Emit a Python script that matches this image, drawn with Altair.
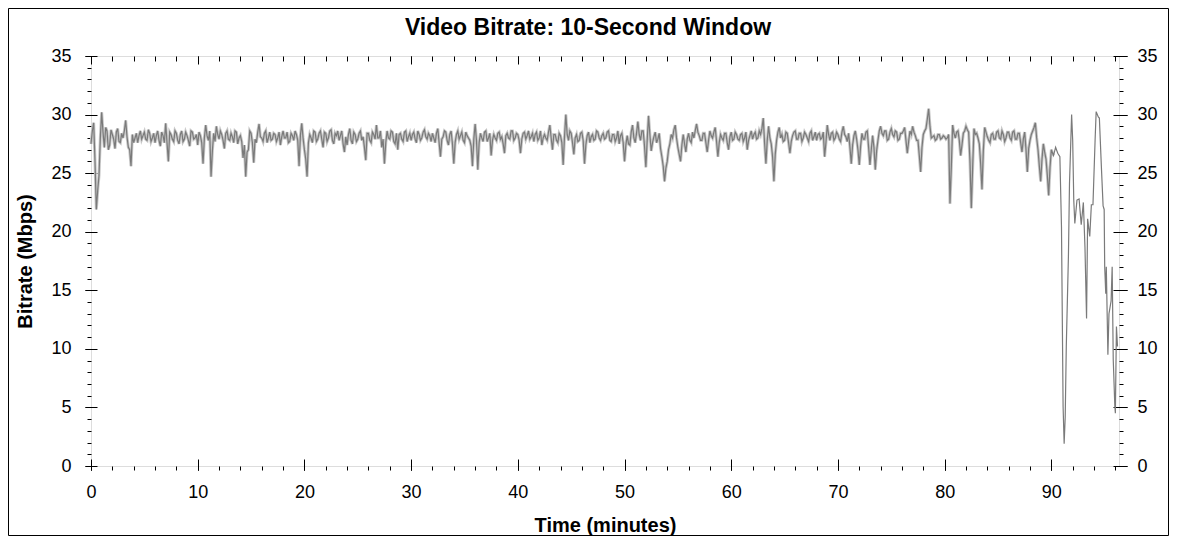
import altair as alt
import pandas as pd

title_text = "Video Bitrate: 10-Second Window"
x_title = "Time (minutes)"
y_title = "Bitrate (Mbps)"

# Bitrate (Mbps) read every 0.25 minute from 0 to 89.75 min
main_values = [
    # 0-10
    27.5, 29.3, 21.9, 24.8, 30.2, 27.2, 28.6, 27.4, 28.3, 27.1,
    28.8, 27.6, 28.0, 29.5, 27.2, 25.6, 27.6, 28.4, 28.2, 27.9,
    28.5, 27.8, 28.4, 28.0, 27.6, 28.6, 27.3, 28.2, 29.25, 26.0,
    28.3, 27.7, 28.4, 27.5, 28.6, 27.9, 28.2, 27.3, 28.5, 28.0,
    # 10-20
    27.4, 28.2, 25.8, 29.1, 27.8, 24.7, 28.4, 29.0, 27.9, 28.3,
    27.1, 28.6, 27.8, 28.1, 28.6, 27.5, 28.2, 26.3, 24.7, 27.0,
    28.4, 25.9, 27.6, 29.2, 28.0, 28.4, 27.6, 28.5, 27.9, 28.3,
    28.0, 27.4, 28.6, 28.0, 27.6, 28.4, 27.8, 28.3, 25.6, 29.25,
    # 20-30
    27.0, 24.7, 28.3, 27.6, 28.5, 27.9, 28.6, 27.2, 28.4, 28.0,
    28.7, 27.5, 28.2, 27.8, 28.6, 26.8, 27.4, 28.8, 27.5, 28.3,
    27.9, 28.6, 28.1, 26.1, 28.4, 27.6, 28.3, 29.1, 28.0, 27.2,
    25.8, 28.6, 27.9, 28.5, 27.5, 27.0, 28.4, 27.7, 28.6, 28.1,
    # 30-40
    27.8, 28.5, 27.6, 28.3, 28.0, 28.7, 27.9, 28.2, 28.4, 27.6,
    28.8, 26.4, 28.1, 28.5, 27.4, 28.6, 25.8, 28.3, 27.9, 28.5,
    27.6, 28.2, 27.8, 25.6, 29.2, 25.3, 28.4, 27.7, 28.6, 28.0,
    26.5, 28.3, 27.8, 28.5, 28.1, 26.7, 28.4, 27.9, 28.6, 28.0,
    # 40-50
    28.3, 26.7, 28.4, 27.9, 28.6, 28.1, 27.7, 28.5, 28.0, 27.4,
    28.3, 27.8, 29.1, 27.0, 28.3, 27.6, 28.2, 25.7, 30.0, 27.8,
    28.4, 26.6, 28.3, 27.8, 28.5, 25.8, 28.2, 27.6, 28.3, 27.9,
    28.5, 27.8, 28.4, 28.0, 28.6, 27.7, 28.3, 28.0, 27.5, 28.4,
    # 50-60
    26.0, 28.2, 27.4, 29.1, 27.6, 29.4, 27.8, 28.6, 25.5, 29.9,
    26.9, 28.1, 27.6, 28.4, 26.4, 24.3, 26.0, 27.5, 28.0, 29.1,
    27.2, 26.0, 28.3, 26.8, 28.4, 27.6, 28.0, 29.2, 28.2, 27.8,
    28.4, 26.8, 28.6, 28.0, 28.9, 26.4, 28.3, 27.8, 28.4, 27.0,
    # 60-70
    28.5, 27.9, 28.3, 27.8, 28.4, 28.0, 27.0, 28.2, 27.9, 28.5,
    28.0, 28.3, 29.7, 25.8, 29.0, 27.5, 24.3, 27.8, 28.9, 28.3,
    27.8, 28.4, 26.7, 28.2, 28.6, 27.9, 28.4, 28.0, 28.3, 27.7,
    28.6, 28.1, 27.8, 28.4, 28.0, 26.4, 29.1, 27.8, 28.5, 28.0,
    # 70-80
    28.3, 27.7, 29.0, 28.1, 28.4, 25.8, 28.2, 27.9, 25.7, 28.4,
    27.9, 28.6, 25.7, 28.2, 25.3, 27.8, 29.0, 28.2, 28.6, 27.9,
    28.8, 28.1, 28.5, 27.9, 28.4, 28.9, 26.7, 28.6, 29.0, 28.2,
    27.8, 25.1, 28.3, 28.8, 30.5, 28.0, 28.2, 27.9, 28.3, 28.0,
    # 80-90
    28.1, 28.0, 22.4, 29.1, 28.0, 28.6, 26.5, 28.4, 29.0, 28.5,
    22.0, 28.8, 28.4, 27.5, 23.6, 28.9, 28.1, 27.6, 28.4, 27.9,
    28.6, 27.9, 28.3, 28.0, 28.5, 27.8, 28.6, 27.9, 28.4, 26.8,
    28.5, 25.1, 27.8, 28.6, 29.3, 27.0, 24.3, 27.5, 26.2, 23.1,
]

# Bitrate read between those samples (0.125, 0.375, ... min)
mid_values = [
    # 0-10
    28.6, 26.0, 23.5, 28.0, 28.5, 28.9, 27.0, 28.7, 27.9, 28.5,
    27.7, 28.4, 28.6, 28.1, 27.0, 28.3, 28.0, 27.6, 28.6, 28.2,
    27.9, 28.7, 27.7, 28.4, 28.2, 27.8, 28.5, 27.6, 27.6, 28.5,
    27.9, 28.6, 27.8, 28.3, 27.7, 28.5, 27.8, 28.6, 27.9, 28.3,
    # 10-20
    28.5, 27.6, 28.0, 28.2, 28.6, 26.9, 27.7, 28.3, 28.6, 27.8,
    28.4, 27.9, 28.4, 27.6, 28.5, 28.0, 27.7, 27.4, 26.8, 28.6,
    27.6, 27.9, 28.5, 28.1, 27.7, 28.6, 28.0, 27.8, 28.4, 27.7,
    28.5, 28.1, 28.0, 28.5, 27.7, 28.2, 28.6, 27.8, 28.2, 28.0,
    # 20-30
    26.2, 27.6, 28.0, 28.6, 27.7, 28.4, 27.9, 28.5, 27.7, 28.6,
    27.8, 28.4, 28.6, 28.2, 27.5, 28.1, 28.3, 27.8, 28.5, 27.7,
    28.4, 27.8, 27.2, 28.4, 27.8, 28.5, 27.9, 28.0, 28.6, 27.9,
    27.6, 28.0, 28.6, 27.7, 28.4, 28.3, 27.9, 28.5, 27.7, 28.4,
    # 30-40
    28.3, 27.9, 28.6, 27.8, 28.5, 28.1, 28.4, 27.7, 28.0, 28.4,
    27.6, 27.9, 28.6, 27.8, 28.3, 27.5, 27.6, 28.6, 28.2, 27.8,
    28.5, 28.0, 27.3, 27.9, 27.8, 27.6, 28.0, 28.5, 27.7, 28.4,
    27.8, 28.0, 28.4, 27.9, 27.5, 28.2, 28.0, 28.6, 27.8, 28.4,
    # 40-50
    27.8, 27.9, 28.5, 28.2, 27.9, 28.4, 28.3, 27.8, 28.6, 28.0,
    28.0, 28.5, 28.0, 28.3, 27.8, 28.4, 27.6, 28.1, 28.3, 28.6,
    27.6, 28.0, 27.7, 28.4, 27.8, 27.4, 28.5, 28.1, 27.8, 28.6,
    28.0, 28.2, 27.9, 28.5, 27.8, 28.3, 27.7, 28.6, 28.2, 27.6,
    # 50-60
    27.4, 27.5, 28.5, 28.0, 28.4, 28.3, 28.6, 27.3, 27.8, 28.3,
    27.6, 28.5, 27.9, 27.1, 25.6, 25.4, 27.0, 28.3, 28.7, 28.0,
    26.6, 27.4, 27.5, 27.9, 27.8, 28.5, 28.6, 28.5, 27.8, 28.4,
    27.6, 27.8, 28.2, 28.5, 27.7, 27.6, 28.0, 28.4, 27.6, 28.1,
    # 60-70
    27.8, 28.5, 27.9, 28.3, 27.7, 28.5, 27.8, 28.6, 28.3, 27.9,
    28.6, 28.8, 27.6, 27.8, 28.0, 26.4, 26.6, 28.5, 28.0, 27.7,
    28.5, 27.6, 27.7, 28.5, 27.9, 28.4, 27.7, 28.5, 28.0, 28.4,
    27.8, 28.5, 28.3, 27.9, 28.5, 27.6, 28.3, 28.4, 27.8, 28.5,
    # 70-80
    27.9, 28.5, 28.3, 27.7, 27.2, 27.4, 28.6, 27.0, 27.3, 27.9,
    28.5, 27.2, 27.0, 27.2, 26.9, 28.6, 28.4, 28.6, 27.8, 28.5,
    28.3, 28.6, 27.8, 28.4, 28.6, 27.8, 27.7, 28.3, 28.5, 27.8,
    26.5, 27.2, 28.6, 29.6, 29.0, 28.1, 27.8, 28.3, 27.9, 28.2,
    # 80-90
    27.9, 28.3, 25.5, 28.4, 28.5, 27.8, 27.4, 28.6, 28.7, 26.0,
    25.5, 28.3, 28.0, 25.8, 26.9, 28.5, 27.8, 28.3, 27.9, 28.5,
    28.0, 28.6, 27.7, 28.5, 28.0, 28.5, 27.9, 28.4, 27.6, 27.9,
    27.0, 27.1, 28.3, 28.9, 28.0, 25.6, 26.2, 26.8, 24.8, 25.5,
]

# Final minutes, read point by point
end_minutes = [
    90.0, 90.2, 90.4, 90.6, 90.8, 90.95, 91.1, 91.2, 91.3, 91.4,
    91.6, 91.7, 91.9, 92.0, 92.1, 92.2, 92.4, 92.6, 92.8, 93.0,
    93.15, 93.3, 93.4, 93.6, 93.75, 93.9, 94.1, 94.2, 94.4, 94.5,
    94.7, 94.85, 94.95, 95.0, 95.1, 95.15, 95.3, 95.4, 95.6, 95.7,
    95.8, 95.95, 96.0, 96.1, 96.2,
]
end_values = [
    27.0, 26.5, 27.2, 26.7, 26.4, 20.4, 5.1, 1.9, 4.2, 10.2,
    17.9, 24.1, 30.0, 27.8, 22.7, 20.7, 22.7, 22.8, 20.6, 22.5,
    18.7, 12.6, 21.1, 19.6, 22.3, 22.3, 27.8, 30.25, 29.8, 29.7,
    25.3, 22.2, 21.9, 17.0, 14.7, 17.0, 9.5, 13.0, 14.1, 17.0,
    9.1, 5.1, 4.5, 11.9, 10.2,
]

x_major = [0, 10, 20, 30, 40, 50, 60, 70, 80, 90]
x_minor = list(range(0, 97, 2))
y_major = [0, 5, 10, 15, 20, 25, 30, 35]
y_minor = list(range(0, 36, 1))

minutes, values = [], []
for i, (a, b) in enumerate(zip(main_values, mid_values)):
    minutes += [i * 0.25, i * 0.25 + 0.125]
    values += [a, b]
minutes += end_minutes
values += end_values
df = pd.DataFrame({"minute": minutes, "mbps": values})

FONT = "Liberation Sans"
W, H = 1028, 410
PAD = {"left": 83, "top": 48, "right": 50, "bottom": 70}

xs = alt.Scale(domain=[0, 96.34], nice=False, zero=False)
ys = alt.Scale(domain=[0, 35], nice=False, zero=False)

tick_only = dict(domain=False, grid=False, labels=False, title=None,
                 tickColor="black", tickWidth=1)


def axis_layer(xaxis, yaxis):
    return alt.Chart(df).mark_line(opacity=0).encode(
        x=alt.X("minute:Q", scale=xs, axis=xaxis),
        y=alt.Y("mbps:Q", scale=ys, axis=yaxis),
    )


# light fringe around the dense part of the trace
halo = alt.Chart(df).transform_filter(
    alt.datum.minute <= 90.2
).mark_line(color="#c8c8c8", strokeWidth=3).encode(
    x=alt.X("minute:Q", scale=xs, axis=None),
    y=alt.Y("mbps:Q", scale=ys, axis=None),
)

line = alt.Chart(df).mark_line(color="#7a7a7a", strokeWidth=1.2).encode(
    x=alt.X("minute:Q", scale=xs, axis=alt.Axis(
        orient="bottom", values=x_major, format="d", grid=False, domain=False,
        tickSize=4, tickColor="black", labelPadding=13, labelFlush=False,
        labelFont=FONT, labelFontSize=18, labelColor="black",
        title=x_title, titleFont=FONT, titleFontSize=20,
        titleFontWeight="bold", titleColor="black",
        titleX=W / 2, titleY=65, titleBaseline="alphabetic", titleAlign="center")),
    y=alt.Y("mbps:Q", scale=ys, axis=alt.Axis(
        orient="left", values=y_major, format="d", grid=False, domain=False,
        tickSize=6, tickColor="black", labelPadding=14, labelFlush=False,
        labelFont=FONT, labelFontSize=18, labelColor="black",
        title=y_title, titleFont=FONT, titleFontSize=20,
        titleFontWeight="bold", titleColor="black", titleAngle=270,
        titleX=-60, titleY=H / 2, titleBaseline="alphabetic", titleAlign="center")),
)

l_minor = axis_layer(
    alt.Axis(orient="bottom", values=x_minor, tickSize=4, **tick_only),
    alt.Axis(orient="left", values=y_minor, tickSize=4, **tick_only),
)
l_cross = axis_layer(
    alt.Axis(orient="bottom", values=x_major, tickSize=11, offset=-7, **tick_only),
    alt.Axis(orient="left", values=y_major, tickSize=12, offset=-6, **tick_only),
)
l_right = axis_layer(
    alt.Axis(orient="top", values=x_major, tickSize=8, offset=-8, **tick_only),
    alt.Axis(orient="right", values=y_major, format="d", grid=False, domain=False,
             tickSize=8, tickColor="black", labelPadding=10, labelFlush=False,
             labelFont=FONT, labelFontSize=18, labelColor="black", title=None),
)
l_right_minor = axis_layer(
    alt.Axis(orient="top", values=x_minor, tickSize=5, offset=-5, **tick_only),
    alt.Axis(orient="right", values=y_minor, tickSize=4, **tick_only),
)
l_right_cross = axis_layer(
    None,
    alt.Axis(orient="right", values=y_major, tickSize=14, offset=-6, **tick_only),
)

title = alt.Chart(alt.Data(values=[{"t": title_text}])).mark_text(
    font=FONT, fontSize=23, fontWeight="bold", color="black",
    align="center", baseline="alphabetic", clip=False
).encode(
    text="t:N",
    x=alt.value(W / 2 - 17),
    y=alt.value(-21),
)

frame = alt.Chart(alt.Data(values=[{"f": 1}])).mark_rect(
    fillOpacity=0, stroke="black", strokeWidth=1, clip=False
).encode(
    x=alt.value(-PAD["left"] + 0.5),
    x2=alt.value(W + PAD["right"] - 0.5),
    y=alt.value(-PAD["top"] + 0.5),
    y2=alt.value(H + PAD["bottom"] - 0.5),
)

chart = alt.layer(
    halo, line, l_minor, l_cross, l_right, l_right_minor, l_right_cross,
    title, frame
).resolve_axis(
    x="independent", y="independent"
).properties(
    width=W, height=H,
    autosize=alt.AutoSizeParams(type="none"),
    padding=PAD,
).configure_view(
    stroke="black", strokeWidth=1
).configure(background="white")

chart.save("out.html", embed_options={"renderer": "svg", "actions": False})
